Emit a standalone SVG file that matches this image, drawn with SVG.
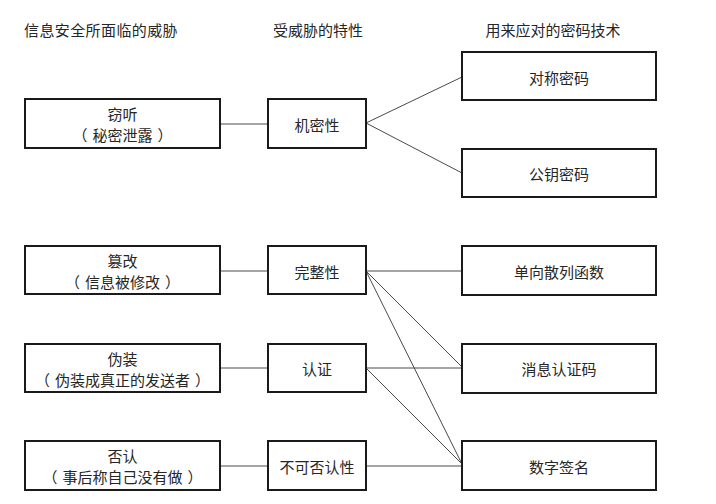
<svg xmlns="http://www.w3.org/2000/svg" width="716" height="504" viewBox="0 0 716 504">
<style>
.box{fill:#fff;stroke:#1a1a1a;stroke-width:2}
.t{font-family:"Noto Sans CJK SC","Noto Sans",sans-serif;font-size:15px;fill:#262626;text-anchor:middle;dominant-baseline:central}
.h{font-family:"Noto Sans CJK SC","Noto Sans",sans-serif;font-size:15px;fill:#262626;dominant-baseline:central}
.c{stroke:#4a4a4a;stroke-width:1;fill:none}
</style>
<rect width="716" height="504" fill="#fff"/>
<g id="headers">
<text class="h" x="24" y="29" letter-spacing="0.4">信息安全所面临的威胁</text>
<text class="h" x="318" y="29" text-anchor="middle">受威胁的特性</text>
<text class="h" x="553" y="29" text-anchor="middle">用来应对的密码技术</text>
</g>
<g id="connectors">
<line class="c" x1="220" y1="124" x2="268" y2="124"/>
<line class="c" x1="220" y1="271" x2="268" y2="271"/>
<line class="c" x1="220" y1="368" x2="268" y2="368"/>
<line class="c" x1="220" y1="466" x2="268" y2="466"/>
<line class="c" x1="366" y1="123" x2="462" y2="77"/>
<line class="c" x1="366" y1="123" x2="462" y2="173"/>
<line class="c" x1="366" y1="271" x2="462" y2="271"/>
<line class="c" x1="366" y1="271" x2="462" y2="367"/>
<line class="c" x1="366" y1="271" x2="462" y2="464"/>
<line class="c" x1="366" y1="368" x2="462" y2="368"/>
<line class="c" x1="366" y1="368" x2="462" y2="464"/>
<line class="c" x1="366" y1="466" x2="462" y2="466"/>
</g>
<g id="threat-eavesdrop"><rect class="box" x="25" y="99" width="195" height="49"/><text class="t" x="122.5" y="113">窃听</text><text class="t" x="122.5" y="134">（<tspan dx="5">秘密泄露</tspan><tspan dx="5">）</tspan></text></g>
<g id="threat-tamper"><rect class="box" x="25" y="246" width="195" height="48"/><text class="t" x="122.5" y="260">篡改</text><text class="t" x="122.5" y="281">（<tspan dx="5">信息被修改</tspan><tspan dx="5">）</tspan></text></g>
<g id="threat-spoof"><rect class="box" x="25" y="344" width="195" height="48"/><text class="t" x="122.5" y="358">伪装</text><text class="t" x="122.5" y="379">（<tspan dx="5">伪装成真正的发送者</tspan><tspan dx="5">）</tspan></text></g>
<g id="threat-deny"><rect class="box" x="25" y="441" width="195" height="49"/><text class="t" x="122.5" y="455">否认</text><text class="t" x="122.5" y="476">（<tspan dx="5">事后称自己没有做</tspan><tspan dx="5">）</tspan></text></g>
<g id="prop-conf"><rect class="box" x="268" y="99" width="98" height="49"/><text class="t" x="317" y="124">机密性</text></g>
<g id="prop-integ"><rect class="box" x="268" y="246" width="98" height="48"/><text class="t" x="317" y="271">完整性</text></g>
<g id="prop-auth"><rect class="box" x="268" y="344" width="98" height="48"/><text class="t" x="317" y="368">认证</text></g>
<g id="prop-nonrep"><rect class="box" x="268" y="441" width="98" height="49"/><text class="t" x="317" y="466">不可否认性</text></g>
<g id="tech-sym"><rect class="box" x="462" y="52" width="194" height="48"/><text class="t" x="559" y="77">对称密码</text></g>
<g id="tech-pub"><rect class="box" x="462" y="149" width="194" height="48"/><text class="t" x="559" y="173">公钥密码</text></g>
<g id="tech-hash"><rect class="box" x="462" y="246" width="194" height="49"/><text class="t" x="559" y="271">单向散列函数</text></g>
<g id="tech-mac"><rect class="box" x="462" y="344" width="194" height="49"/><text class="t" x="559" y="368">消息认证码</text></g>
<g id="tech-sig"><rect class="box" x="462" y="441" width="194" height="49"/><text class="t" x="559" y="466">数字签名</text></g>
</svg>
